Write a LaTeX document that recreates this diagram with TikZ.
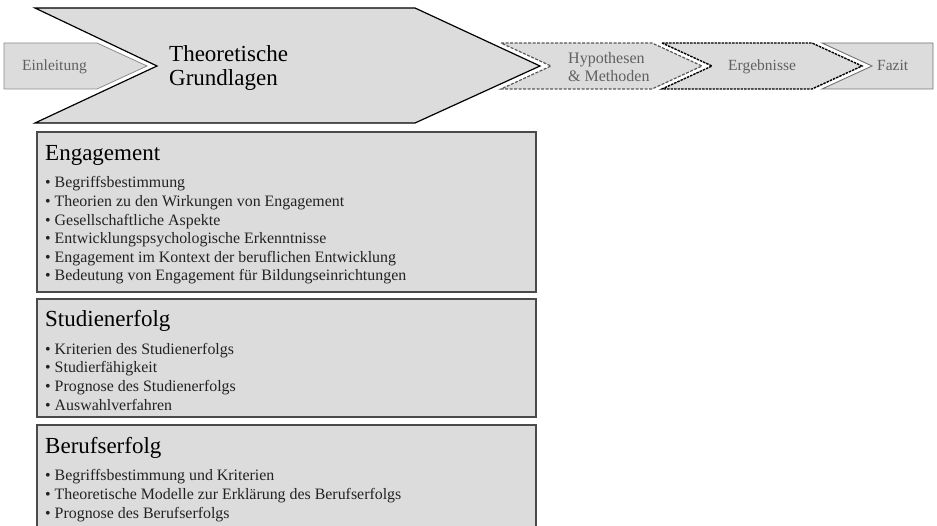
\documentclass[tikz,border=0pt]{standalone}
\usepackage{fontspec}
\setmainfont{Liberation Serif}
\begin{document}
\begin{tikzpicture}[x=1pt,y=-1pt,
  phasefill/.style={fill=boxgray},
  small/.style={font=\fontsize{15.5}{18}\selectfont, text=txtgray, inner sep=0pt},
  heading/.style={font=\fontsize{23}{26}\selectfont, text=black, inner sep=0pt, anchor=base west},
  items/.style={font=\fontsize{15.9}{18.6}\selectfont, text=txtdark, inner sep=0pt, align=left, anchor=base west},
  topicbox/.style={fill=boxgray, draw=boxline, line width=1.3pt}
]
\definecolor{boxgray}{HTML}{DCDCDC}
\definecolor{boxline}{HTML}{4A4A4A}
\definecolor{txtgray}{HTML}{606060}
\definecolor{txtdark}{HTML}{222222}
\useasboundingbox (0,0) rectangle (937,526);
\clip (0,0) rectangle (937,526);

% process chevrons
\draw[phasefill, draw=gray!90, line width=0.8pt]
  (4,43) -- (97,43) -- (147,66) -- (97,89) -- (4,89) -- cycle;
\draw[phasefill, draw=black, line width=1.2pt, line join=miter]
  (35,8) -- (415,8) -- (540,66) -- (415,123) -- (35,123) -- (157,66) -- cycle;
\draw[phasefill, draw=black!65, line width=1.2pt, dash pattern=on 3pt off 1.5pt]
  (501,43) -- (652,43) -- (702,66) -- (652,89) -- (501,89) -- (551,66) -- cycle;
\draw[phasefill, draw=black, line width=1.4pt, dash pattern=on 2.5pt off 1pt]
  (662,43) -- (812,43) -- (862,66) -- (812,89) -- (662,89) -- (712,66) -- cycle;
\draw[phasefill, draw=black!55, line width=0.9pt]
  (822,43) -- (933,43) -- (933,89) -- (822,89) -- (872,66) -- cycle;

% phase labels (multi-line nodes are anchored at their last baseline)
\node[small, anchor=base west] (einl) at (22,71) {Einleitung};
\node[font=\fontsize{23}{24.5}\selectfont, inner sep=0pt, align=left, anchor=base west]
  (theo) at (169,86) {Theoretische\\Grundlagen};
\node[small, font=\fontsize{16}{18}\selectfont, align=left, anchor=base west]
  (hypo) at (568,82) {Hypothesen\\\& Methoden};
\node[small, anchor=base west] (erg) at (728,71) {Ergebnisse};
\node[small, anchor=base west] (fazit) at (877,71) {Fazit};

% topic boxes
\draw[topicbox] (37,132) rectangle (536,292);
\draw[topicbox] (37,299) rectangle (536,417);
\draw[topicbox] (37,425) rectangle (536,560);

\node[heading] (eng) at (45,161) {Engagement};
\node[items] (englist) at (45,281) {%
  • Begriffsbestimmung\\
  • Theorien zu den Wirkungen von Engagement\\
  • Gesellschaftliche Aspekte\\
  • Entwicklungspsychologische Erkenntnisse\\
  • Engagement im Kontext der beruflichen Entwicklung\\
  • Bedeutung von Engagement für Bildungseinrichtungen};

\node[heading] (stud) at (45,327) {Studienerfolg};
\node[items] (studlist) at (45,410) {%
  • Kriterien des Studienerfolgs\\
  • Studierfähigkeit\\
  • Prognose des Studienerfolgs\\
  • Auswahlverfahren};

\node[heading] (beruf) at (45,453) {Berufserfolg};
\node[items] (beruflist) at (45,518) {%
  • Begriffsbestimmung und Kriterien\\
  • Theoretische Modelle zur Erklärung des Berufserfolgs\\
  • Prognose des Berufserfolgs};
\end{tikzpicture}
\end{document}
